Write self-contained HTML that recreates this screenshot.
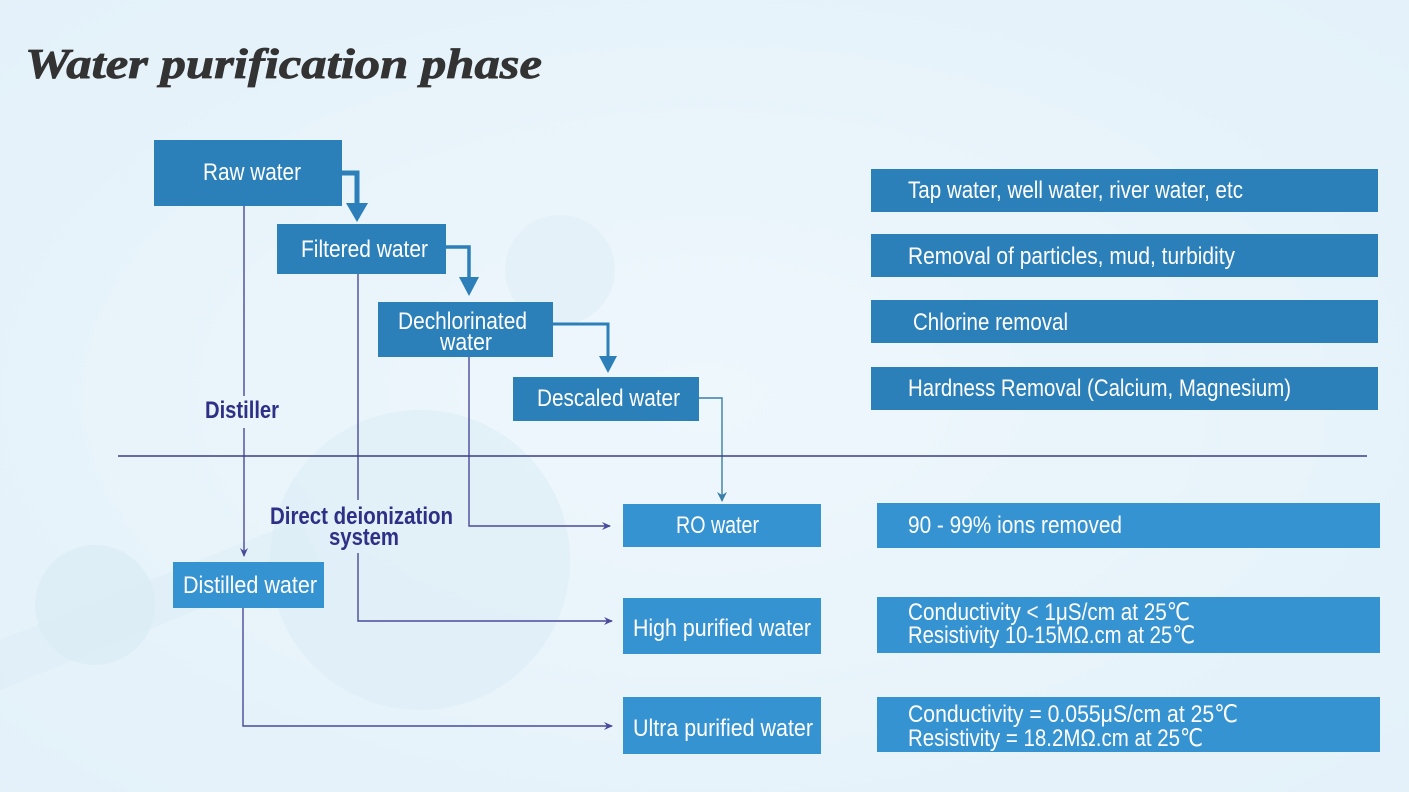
<!DOCTYPE html>
<html><head><meta charset="utf-8"><style>
html,body{margin:0;padding:0;width:1409px;height:792px;overflow:hidden;background:#e8f3fa}
svg{display:block;overflow:hidden;position:absolute;left:0;top:0}
.w{fill:#fff;font-family:"Liberation Sans Narrow","Liberation Sans",sans-serif;font-size:24px}
.n{fill:#2e2f86;font-family:"Liberation Sans Narrow","Liberation Sans",sans-serif;font-size:24px;font-weight:bold}
</style></head><body>
<svg width="1409" height="792" viewBox="0 0 1409 792" xmlns="http://www.w3.org/2000/svg">
<defs>
<radialGradient id="bg" cx="0.5" cy="0.5" r="0.8"><stop offset="0" stop-color="#eef7fc"/><stop offset="1" stop-color="#e2f0f9"/></radialGradient>
<marker id="ta" markerWidth="10" markerHeight="10" refX="8" refY="5" orient="auto" markerUnits="userSpaceOnUse"><path d="M0,1 L9,5 L0,9 L3,5 z" fill="#4a4a9a"/></marker>
</defs>
<rect width="1409" height="792" fill="url(#bg)"/>
<circle cx="420" cy="560" r="150" fill="#d9ecf5" opacity="0.5"/>
<circle cx="95" cy="605" r="60" fill="#d6eaf4" opacity="0.5"/>
<circle cx="560" cy="270" r="55" fill="#dbecf6" opacity="0.4"/>
<polygon points="0,640 300,520 320,560 0,690" fill="#d9ecf5" opacity="0.4"/>

<text x="25" y="78" font-family="'Liberation Serif',serif" font-weight="bold" font-style="italic" font-size="42" fill="#333" stroke="#333" stroke-width="0.8" textLength="517" lengthAdjust="spacingAndGlyphs">Water purification phase</text>

<g stroke="#4a4a9a" stroke-width="1.4" fill="none">
<line x1="244" y1="206" x2="244" y2="396"/>
<line x1="244" y1="428" x2="244" y2="556" marker-end="url(#ta)"/>
<line x1="358" y1="274" x2="358" y2="500"/>
<polyline points="358,553 358,621 612,621" marker-end="url(#ta)"/>
<polyline points="469,357 469,526 610,526" marker-end="url(#ta)"/>
<polyline points="243,608 243,726 612,726" marker-end="url(#ta)"/>
</g>
<polyline points="699,398 722,398 722,501" stroke="#3a7fa8" stroke-width="1.4" fill="none"/>
<path d="M717,492 L722,502 L727,492 L722,495z" fill="#3a7fa8"/>
<line x1="118" y1="456" x2="1367" y2="456" stroke="#3b3f86" stroke-width="1.6"/>

<g stroke="#2c7fb8" fill="none">
<polyline points="342,173 357,173 357,206" stroke-width="5"/>
<polyline points="446,247 469,247 469,280" stroke-width="3.5"/>
<polyline points="553,324 608,324 608,358" stroke-width="3"/>
</g>
<g fill="#2c7fb8">
<path d="M346,203 L368,203 L357,222z"/>
<path d="M459,277 L479,277 L469,296z"/>
<path d="M599,356 L617,356 L608,373z"/>
</g>

<g fill="#2c80b9">
<rect x="154" y="140" width="188" height="66"/>
<rect x="277" y="224" width="169" height="50"/>
<rect x="378" y="302" width="175" height="55"/>
<rect x="513" y="377" width="186" height="44"/>
</g>
<g fill="#3593d1">
<rect x="173" y="562" width="151" height="46"/>
<rect x="623" y="504" width="198" height="43"/>
<rect x="623" y="598" width="198" height="56"/>
<rect x="623" y="697" width="198" height="57"/>
</g>
<g fill="#2c80b9">
<rect x="871" y="169" width="507" height="43"/>
<rect x="871" y="234" width="507" height="43"/>
<rect x="871" y="300" width="507" height="43"/>
<rect x="871" y="367" width="507" height="43"/>
</g>
<g fill="#3593d1">
<rect x="877" y="503" width="503" height="45"/>
<rect x="877" y="597" width="503" height="56"/>
<rect x="877" y="697" width="503" height="55"/>
</g>

<g class="w">
<text x="203" y="180" textLength="98" lengthAdjust="spacingAndGlyphs">Raw water</text>
<text x="301" y="257" textLength="127" lengthAdjust="spacingAndGlyphs">Filtered water</text>
<text x="398" y="329" textLength="129" lengthAdjust="spacingAndGlyphs">Dechlorinated</text>
<text x="440" y="350" textLength="52" lengthAdjust="spacingAndGlyphs">water</text>
<text x="537" y="406" textLength="143" lengthAdjust="spacingAndGlyphs">Descaled water</text>
<text x="183" y="593" textLength="134" lengthAdjust="spacingAndGlyphs">Distilled water</text>
<text x="676" y="533" textLength="83" lengthAdjust="spacingAndGlyphs">RO water</text>
<text x="633" y="636" textLength="178" lengthAdjust="spacingAndGlyphs">High purified water</text>
<text x="633" y="736" textLength="180" lengthAdjust="spacingAndGlyphs">Ultra purified water</text>
<text x="908" y="198" textLength="335" lengthAdjust="spacingAndGlyphs">Tap water, well water, river water, etc</text>
<text x="908" y="264" textLength="327" lengthAdjust="spacingAndGlyphs">Removal of particles, mud, turbidity</text>
<text x="913" y="330" textLength="155" lengthAdjust="spacingAndGlyphs">Chlorine removal</text>
<text x="908" y="396" textLength="383" lengthAdjust="spacingAndGlyphs">Hardness Removal (Calcium, Magnesium)</text>
<text x="908" y="533" textLength="214" lengthAdjust="spacingAndGlyphs">90 - 99% ions removed</text>
<text x="908" y="620" textLength="282" lengthAdjust="spacingAndGlyphs">Conductivity &lt; 1μS/cm at 25℃</text>
<text x="908" y="643" textLength="287" lengthAdjust="spacingAndGlyphs">Resistivity 10-15MΩ.cm at 25℃</text>
<text x="908" y="722" textLength="330" lengthAdjust="spacingAndGlyphs">Conductivity = 0.055μS/cm at 25℃</text>
<text x="908" y="746" textLength="295" lengthAdjust="spacingAndGlyphs">Resistivity = 18.2MΩ.cm at 25℃</text>
</g>
<g class="n">
<text x="205" y="418" textLength="74" lengthAdjust="spacingAndGlyphs">Distiller</text>
<text x="270" y="524" textLength="183" lengthAdjust="spacingAndGlyphs">Direct deionization</text>
<text x="329" y="545" textLength="70" lengthAdjust="spacingAndGlyphs">system</text>
</g>
</svg>
</body></html>
